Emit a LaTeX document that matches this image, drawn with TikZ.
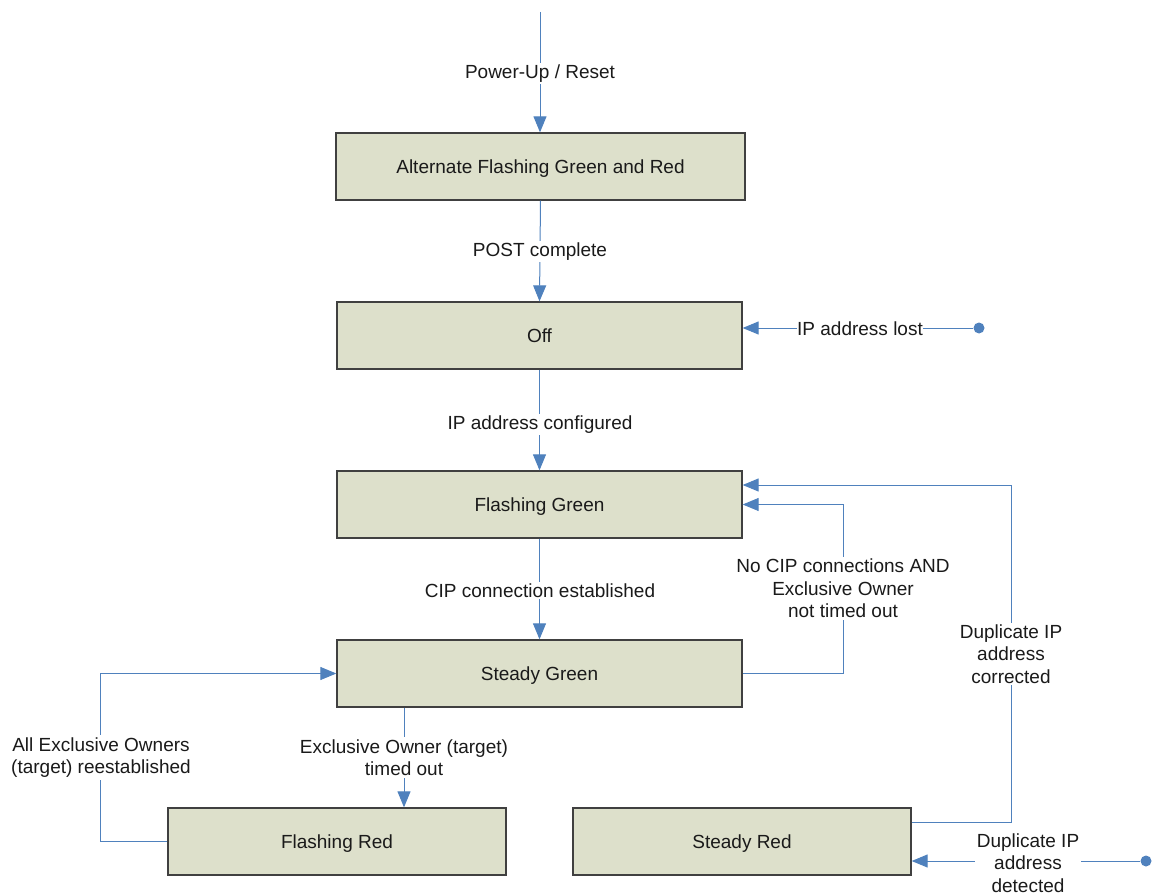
\documentclass[tikz,border=0pt]{standalone}
\usepackage{fontspec}
\setmainfont{Liberation Sans}
\usetikzlibrary{arrows.meta}
\definecolor{boxfill}{HTML}{DDE0CB}
\definecolor{boxline}{HTML}{404040}
\definecolor{lineblue}{HTML}{4F81BD}
\definecolor{txt}{HTML}{1A1A1A}
\begin{document}
\begin{tikzpicture}[x=1pt,y=-1pt, font=\fontsize{19}{22.5}\selectfont, text=txt,
  state/.style={draw=boxline, line width=1.3pt, fill=boxfill, minimum height=67pt, inner sep=0pt, text height=13.6pt, text depth=0pt},
  conn/.style={draw=lineblue, line width=1pt},
  arr/.style={conn, -{Triangle[length=16pt,width=13pt]}},
  lbl/.style={fill=white, inner sep=2pt, align=center, yshift=-2.5pt},
  mlbl/.style={lbl, yshift=2pt},
  dot/.style={circle, fill=lineblue, inner sep=0pt, minimum size=11pt}]
\useasboundingbox (0,0) rectangle (1152,896);

% states
\node[state, minimum width=409pt] (alt) at (540.5,166.5) {Alternate Flashing Green and Red};
\node[state, minimum width=405pt] (off) at (539.5,335.5) {Off};
\node[state, minimum width=405pt] (fg)  at (539.5,504.5) {Flashing Green};
\node[state, minimum width=405pt] (sg)  at (539.5,673.5) {Steady Green};
\node[state, minimum width=338pt] (fr)  at (337,841.5) {Flashing Red};
\node[state, minimum width=338pt] (sr)  at (742,841.5) {Steady Red};

\coordinate (start) at (540,12);
\coordinate (x404) at (404,0);
\node[dot] (d1) at (979,328) {};
\node[dot] (d2) at (1146,861) {};

% connectors
\draw[arr] (start) -- (start |- alt.north);
\draw[arr] (alt.south) -- (off.north);
\draw[arr] (off.south) -- (fg.north);
\draw[arr] (fg.south) -- (sg.north);
\draw[arr] (d1) -- (off.east |- d1);
\draw[arr] (x404 |- sg.south) -- (x404 |- fr.north);
\draw[arr] (fr.west) -- ++(-67,0) |- (sg.west);
\draw[arr] (sg.east) -- ++(101,0) |- (fg.east);
\draw[arr] ([yshift=19.5pt]sr.east) -- ++(100,0) |- ([yshift=19.5pt]fg.east);
\draw[arr] (d2) -- (sr.east |- d2);

% labels
\node[lbl] at (540,71) {Power-Up / Reset};
\node[lbl] at (540,249) {POST complete};
\node[lbl] at (540,422) {IP address configured};
\node[lbl] at (540,588) {CIP connection established};
\node[mlbl, inner sep=0.5pt] at (860,328) {IP address lost};
\node[mlbl] at (404,757) {Exclusive Owner (target)\\timed out};
\node[mlbl] at (101,757) {All Exclusive Owners\\(target) reestablished};
\node[mlbl] at (843,588) {No CIP connections AND\\Exclusive Owner\\not timed out};
\node[mlbl] at (1011,653.5) {Duplicate IP\\address\\corrected};
\node[mlbl] at (1028,862.5) {Duplicate IP\\address\\detected};
\end{tikzpicture}
\end{document}
